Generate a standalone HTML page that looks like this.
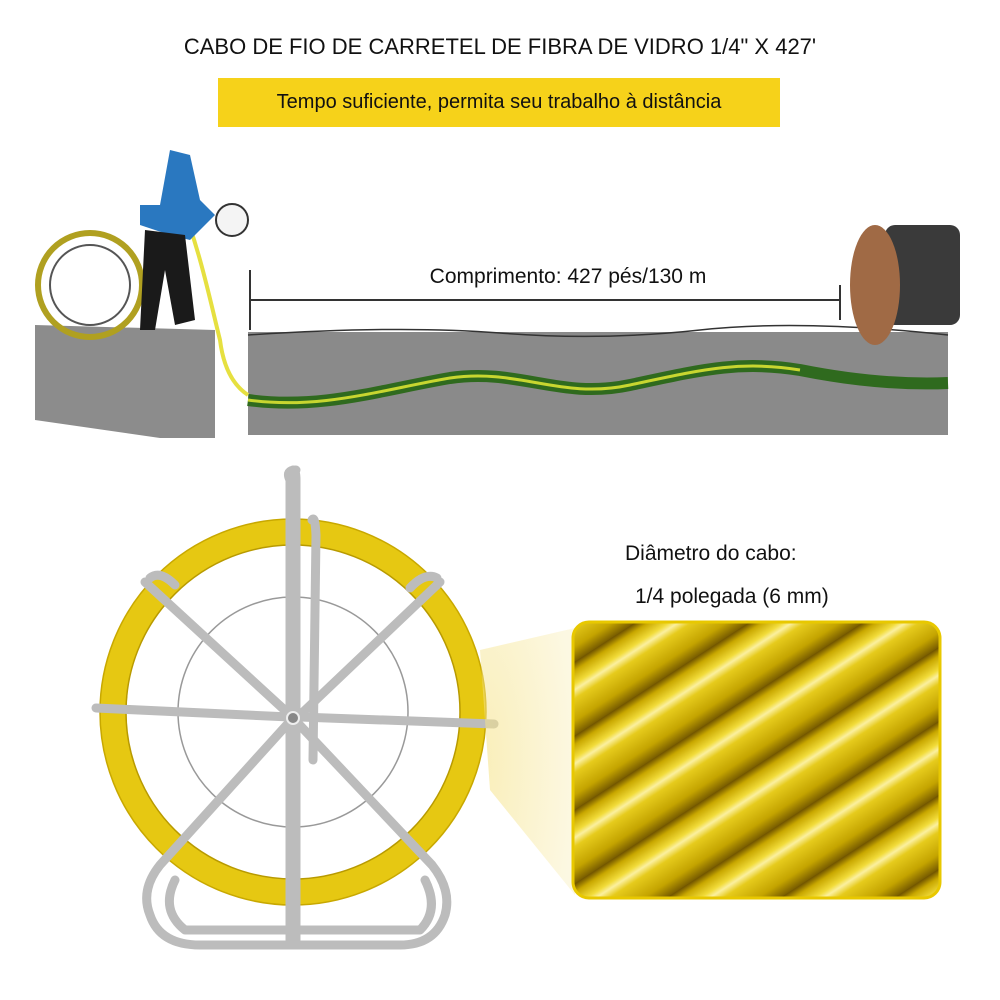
<!DOCTYPE html>
<html><head><meta charset="utf-8"><style>
html,body{margin:0;padding:0;background:#fff;}
body{width:1000px;height:1000px;overflow:hidden;position:relative;font-family:"Liberation Sans",sans-serif;}
.t{position:absolute;white-space:nowrap;color:#111;}
</style></head><body>
<div class="t" style="left:0;width:1000px;text-align:center;top:34px;font-size:22px;">CABO DE FIO DE CARRETEL DE FIBRA DE VIDRO 1/4" X 427'</div>
<div style="position:absolute;left:218px;top:78px;width:562px;height:49px;background:#f6d21a;"></div>
<div class="t" style="left:218px;width:562px;text-align:center;top:91px;font-size:20px;">Tempo suficiente, permita seu trabalho à distância</div>
<svg width="1000" height="1000" style="position:absolute;left:0;top:0">
<defs>
<linearGradient id="rg" x1="0" y1="0" x2="0" y2="1">
<stop offset="0" stop-color="#6e5200"/><stop offset=".12" stop-color="#c9a800"/><stop offset=".3" stop-color="#f2dc3a"/><stop offset=".38" stop-color="#fbf0a0"/><stop offset=".5" stop-color="#e6cb1c"/><stop offset=".8" stop-color="#c4a400"/><stop offset="1" stop-color="#7a5e00"/>
</linearGradient>
<pattern id="rods" width="200" height="62" patternUnits="userSpaceOnUse" patternTransform="rotate(-33)">
<rect width="200" height="62" fill="url(#rg)"/>
</pattern>
<radialGradient id="beam" cx="0" cy="0.5" r="1">
<stop offset="0" stop-color="#f5e38a" stop-opacity=".6"/><stop offset="1" stop-color="#f5e38a" stop-opacity=".25"/>
</radialGradient>
</defs>
<!-- scene -->
<path d="M35 325 L215 330 L215 438 L160 438 L35 420 Z" fill="#8c8c8c"/>
<rect x="248" y="332" width="700" height="103" fill="#8a8a8a"/>
<path d="M248 335 Q400 325 500 333 T700 330 T948 335" stroke="#333" fill="none" stroke-width="1.5"/>
<path d="M248 400 C320 410 380 390 450 378 C520 368 560 400 630 385 C700 370 740 360 800 370 C850 380 900 385 948 383" stroke="#2f6a1e" stroke-width="12" fill="none"/>
<path d="M248 400 C320 410 380 390 450 378 C520 368 560 400 630 385 C700 370 740 360 800 370" stroke="#c8d630" stroke-width="3" fill="none"/>
<line x1="250" y1="300" x2="840" y2="300" stroke="#333" stroke-width="2"/>
<line x1="250" y1="270" x2="250" y2="330" stroke="#333" stroke-width="2"/>
<line x1="840" y1="285" x2="840" y2="320" stroke="#333" stroke-width="2"/>
<circle cx="90" cy="285" r="52" fill="none" stroke="#b0a020" stroke-width="6"/>
<circle cx="90" cy="285" r="40" fill="none" stroke="#555" stroke-width="2"/>
<path d="M180 200 C200 250 210 300 220 340 Q225 380 248 395" stroke="#e6e040" stroke-width="4" fill="none"/>
<path d="M170 150 L190 155 L200 200 L215 215 L190 240 L170 235 L140 225 L140 205 L160 205 Z" fill="#2a78c0"/>
<path d="M145 230 L185 235 L195 320 L175 325 L165 270 L155 330 L140 330 Z" fill="#1a1a1a"/>
<circle cx="232" cy="220" r="16" fill="#f4f4f4" stroke="#333" stroke-width="2"/>
<rect x="885" y="225" width="75" height="100" rx="10" fill="#3a3a3a"/>
<ellipse cx="875" cy="285" rx="25" ry="60" fill="#a06a45"/>
<!-- bottom reel -->
<circle cx="293" cy="712" r="180" fill="none" stroke="#e6c812" stroke-width="26"/>
<circle cx="293" cy="712" r="167" fill="none" stroke="#b89a00" stroke-width="1.5"/>
<circle cx="293" cy="712" r="193" fill="none" stroke="#c8a800" stroke-width="1.5"/>
<circle cx="293" cy="712" r="115" fill="none" stroke="#999" stroke-width="1.5"/>
<g stroke="#bcbcbc" stroke-width="9" fill="none" stroke-linecap="round" stroke-linejoin="round">
<path d="M96 708 L290 717"/><path d="M300 717 L494 724"/>
<path d="M145 582 L290 715"/><path d="M440 582 L300 715"/>
<path d="M150 578 Q160 570 175 585"/><path d="M437 578 Q425 572 410 588"/>
<path d="M293 470 Q296 470 296 480 L296 940"/>
<path d="M296 470 Q285 470 290 480 L290 940"/>
<path d="M312 520 Q315 515 316 535 L313 760"/>
<path d="M293 718 L160 865 Q140 890 150 915 Q160 945 200 945 L400 945 Q435 945 445 915 Q452 890 432 865 Z"/>
<path d="M175 880 Q160 910 185 930 L420 930 Q440 910 425 880"/>
<path d="M293 760 L293 850"/>
</g>
<circle cx="293" cy="718" r="6" fill="#888" stroke="#eee" stroke-width="2"/>
<!-- beam -->
<polygon points="480,650 575,628 575,895 490,790" fill="url(#beam)"/>
<rect x="573" y="622" width="367" height="276" rx="16" fill="url(#rods)" stroke="#e8c800" stroke-width="3"/>
</svg>
<div class="t" style="left:248px;width:640px;text-align:center;top:265px;font-size:21px;">Comprimento: 427 pés/130 m</div>
<div class="t" style="left:625px;top:542px;font-size:21px;">Diâmetro do cabo:</div>
<div class="t" style="left:635px;top:585px;font-size:21px;">1/4 polegada (6 mm)</div>
</body></html>
